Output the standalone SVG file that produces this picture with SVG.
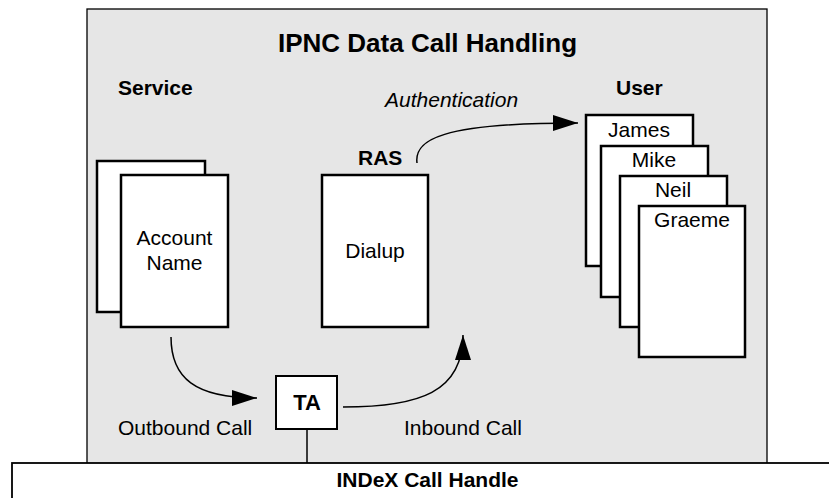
<svg xmlns="http://www.w3.org/2000/svg" width="829" height="498" viewBox="0 0 829 498">
<style>
.node{fill:#fff;stroke:#000;stroke-width:2.5}
.t{font-family:"Liberation Sans",Arial,sans-serif;font-size:21px;fill:#000}
.b{font-weight:bold}
.c{text-anchor:middle}
.conn{fill:none;stroke:#000;stroke-width:1.5}
</style>
<defs>
<marker id="ah" markerUnits="userSpaceOnUse" markerWidth="26" markerHeight="18" viewBox="0 0 26 18" refX="25" refY="9" orient="auto">
<path d="M0,1 L25,9 L0,17 z" fill="#000"/>
</marker>
</defs>
<rect id="frame" x="87" y="9" width="680" height="462" fill="#e6e6e6" stroke="#000" stroke-width="1.3"/>
<text class="t b c" x="427.5" y="52" style="font-size:26px">IPNC Data Call Handling</text>
<text class="t b" x="118" y="95">Service</text>
<text class="t b" x="616" y="95">User</text>
<text class="t" x="385" y="107" font-style="italic">Authentication</text>
<text class="t b" x="358" y="165">RAS</text>
<g id="service">
<rect class="node" x="97" y="161" width="108" height="151"/>
<rect class="node" x="121" y="175" width="107" height="152"/>
<text class="t c" x="174.5" y="245">Account</text>
<text class="t c" x="174.5" y="270">Name</text>
</g>
<g id="dialup">
<rect class="node" x="322" y="175" width="106" height="152"/>
<text class="t c" x="375" y="258">Dialup</text>
</g>
<g id="james">
<rect class="node" x="586" y="115" width="107" height="151"/>
<text class="t c" x="639" y="137">James</text>
</g>
<g id="mike">
<rect class="node" x="601" y="146" width="107" height="151"/>
<text class="t c" x="654" y="167">Mike</text>
</g>
<g id="neil">
<rect class="node" x="620" y="176" width="107" height="151"/>
<text class="t c" x="673" y="197">Neil</text>
</g>
<g id="graeme">
<rect class="node" x="639" y="206" width="106" height="151"/>
<text class="t c" x="692" y="227">Graeme</text>
</g>
<g id="ta">
<rect x="276" y="376" width="61" height="53" fill="#fff" stroke="#000" stroke-width="2"/>
<text class="t b c" x="307" y="410" style="font-size:22px">TA</text>
</g>
<text class="t" x="118" y="435">Outbound Call</text>
<text class="t" x="404" y="435">Inbound Call</text>
<g id="connectors">
<path class="conn" d="M417,163 C414,140 440,123 578,123" marker-end="url(#ah)"/>
<path class="conn" d="M171,337 C171,378 195,398 257,398" marker-end="url(#ah)"/>
<path class="conn" d="M343,407 C420,407 463,392 463,335" marker-end="url(#ah)"/>
<line class="conn" x1="307" y1="429" x2="307" y2="463"/>
</g>
<g id="index">
<rect x="12" y="463" width="830" height="50" fill="#fff" stroke="#000" stroke-width="1.8"/>
<text class="t b c" x="427.5" y="487">INDeX Call Handle</text>
</g>
</svg>
